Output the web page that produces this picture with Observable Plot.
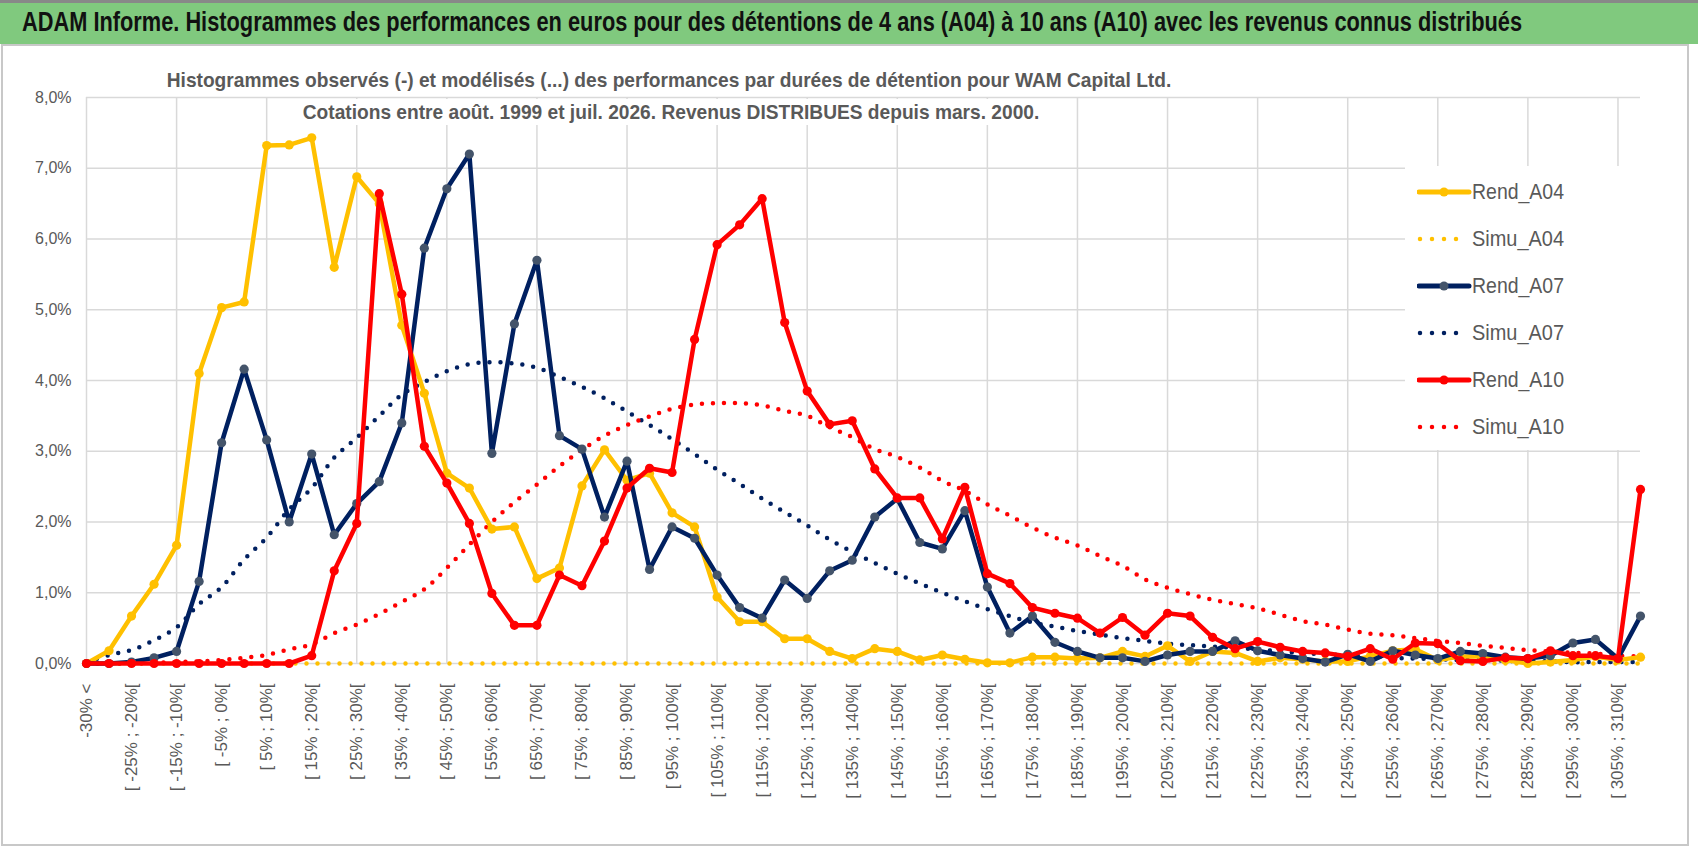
<!DOCTYPE html>
<html><head><meta charset="utf-8">
<script src="https://cdn.jsdelivr.net/npm/d3@7"></script>
<script src="https://cdn.jsdelivr.net/npm/@observablehq/plot@0.6"></script>
<style>
body{margin:0;background:#fff;font-family:"Liberation Sans","DejaVu Sans",sans-serif;}
#wrap{position:relative;width:1698px;height:854px;overflow:hidden;}
#frame{position:absolute;left:1px;top:44px;width:1688px;height:802px;border:2px solid #c8c8c8;box-sizing:border-box;}
#title{position:absolute;left:0;top:0;width:1698px;height:44px;background:#80C97E;border-top:3px solid #888;box-sizing:border-box;}
.fit{position:absolute;white-space:nowrap;transform-origin:0 50%;}
#legend{position:absolute;left:1405px;top:166px;width:235px;height:284px;background:#fff;}
.row{position:absolute;left:12px;height:30px;width:220px;}
#chart{position:absolute;left:0;top:0;}
</style></head><body>
<div id="wrap">
<div id="frame"></div>
<div id="chart"></div>
<div id="title"></div>
<div id="legend"></div>
</div>
<script>
// Categories (5% buckets)
const categories = ["-30% <"];
for (let lo = -30; lo <= 305; lo += 5) categories.push(`[ ${lo}% ; ${lo+5}%[`);
categories.push("> 310%");
const tickLabels = categories.filter((c,i)=>i%2===0);

const rendA04 = [0,0.18,0.67,1.12,1.67,4.1,5.03,5.11,7.32,7.33,7.43,5.6,6.88,6.5,4.78,3.82,2.69,2.48,1.9,1.93,1.2,1.35,2.51,3.02,2.59,2.69,2.13,1.93,0.94,0.59,0.59,0.35,0.35,0.17,0.07,0.21,0.17,0.05,0.12,0.06,0.01,0.01,0.09,0.09,0.07,0.08,0.17,0.1,0.25,0.03,0.17,0.15,0.03,0.08,0.06,0.03,0.03,0.1,0.18,0.2,0.05,0.1,0.1,0.05,0,0.02,0.05,0.1,0.05,0.09];
const simuA04 = Array(70).fill(0.0);
const rendA07 = [0,0,0.02,0.08,0.17,1.16,3.12,4.16,3.16,2.0,2.96,1.82,2.26,2.57,3.4,5.87,6.71,7.2,2.97,4.8,5.7,3.22,3.03,2.07,2.86,1.33,1.93,1.77,1.25,0.79,0.64,1.18,0.92,1.31,1.46,2.07,2.33,1.71,1.62,2.16,1.08,0.43,0.67,0.3,0.17,0.08,0.08,0.03,0.12,0.17,0.17,0.32,0.18,0.12,0.07,0.02,0.13,0.03,0.18,0.12,0.07,0.17,0.14,0.09,0.07,0.11,0.29,0.34,0.07,0.67];
const simuA07 = [0.02,0.12,0.19,0.33,0.51,0.84,1.08,1.47,1.78,2.18,2.48,2.91,3.19,3.5,3.8,3.98,4.13,4.23,4.26,4.24,4.18,4.05,3.91,3.75,3.56,3.37,3.17,2.96,2.74,2.54,2.33,2.14,1.95,1.75,1.58,1.42,1.27,1.13,1.0,0.88,0.77,0.67,0.58,0.52,0.46,0.41,0.36,0.32,0.28,0.26,0.24,0.22,0.2,0.17,0.15,0.13,0.12,0.1,0.08,0.07,0.06,0.05,0.05,0.04,0.03,0.03,0.02,0.02,0.02,0.02];
const rendA10 = [0,0,0,0,0,0,0,0,0,0,0.11,1.31,1.98,6.64,5.22,3.07,2.55,1.98,0.99,0.54,0.54,1.25,1.1,1.73,2.48,2.76,2.7,4.58,5.92,6.2,6.57,4.82,3.85,3.38,3.43,2.75,2.34,2.34,1.76,2.49,1.27,1.13,0.79,0.71,0.64,0.43,0.65,0.4,0.71,0.67,0.37,0.21,0.31,0.23,0.17,0.15,0.1,0.21,0.06,0.29,0.28,0.04,0.03,0.08,0.07,0.18,0.11,0.11,0.07,2.46];
const simuA10 = [0,0,0,0.01,0.02,0.03,0.05,0.08,0.12,0.2,0.27,0.43,0.55,0.7,0.87,1.05,1.35,1.68,2.0,2.28,2.53,2.79,3.02,3.22,3.37,3.49,3.6,3.66,3.68,3.68,3.65,3.57,3.5,3.34,3.2,3.03,2.92,2.77,2.58,2.44,2.25,2.09,1.92,1.78,1.67,1.52,1.38,1.19,1.07,0.98,0.9,0.84,0.78,0.69,0.6,0.55,0.48,0.42,0.4,0.36,0.32,0.29,0.25,0.22,0.19,0.17,0.15,0.14,0.11,0.1];
const yTicks = [0,1,2,3,4,5,6,7,8];

const YEL="#FFC000", NAVY="#002060", RED="#FF0000", MARK07="#44546A";
const series = [
 {name:"Rend_A04", vals:rendA04, color:YEL, dot:YEL, dotted:false},
 {name:"Simu_A04", vals:simuA04, color:YEL, dotted:true},
 {name:"Rend_A07", vals:rendA07, color:NAVY, dot:MARK07, dotted:false},
 {name:"Simu_A07", vals:simuA07, color:NAVY, dotted:true},
 {name:"Rend_A10", vals:rendA10, color:RED, dot:RED, dotted:false},
 {name:"Simu_A10", vals:simuA10, color:RED, dotted:true}
];
const tbl = s => s.vals.map((v,i)=>({x:categories[i], y:v}));
const marks = [
  Plot.gridY(yTicks,{stroke:"#d9d9d9",strokeOpacity:1,strokeWidth:1.5}),
  Plot.gridX(categories.filter((c,i)=>i%4===0),{stroke:"#d9d9d9",strokeOpacity:1,strokeWidth:1.5}),
  Plot.axisY(yTicks,{tickSize:0,tickPadding:15,fontSize:16,fill:"#595959",label:null,tickFormat:d=>d.toFixed(1).replace(".",",")+"%"}),
  Plot.axisX(tickLabels,{tickSize:0,tickPadding:20,tickRotate:-90,fontSize:17,fill:"#595959",label:null,tickFormat:d=>d})
];
for (const s of series.filter(s=>s.dotted)) {
  marks.push(Plot.line(tbl(s),{x:"x",y:"y",stroke:s.color,strokeWidth:4.5,strokeDasharray:"0,11",strokeLinecap:"round",curve:"catmull-rom"}));
}
for (const s of series.filter(s=>!s.dotted)) {
  marks.push(Plot.line(tbl(s),{x:"x",y:"y",stroke:s.color,strokeWidth:4.5,strokeLinejoin:"round"}));
  marks.push(Plot.dot(tbl(s),{x:"x",y:"y",r:4.6,fill:s.dot,stroke:"none"}));
}
const chart = Plot.plot({
  width:1698,height:854,marginLeft:86,marginRight:58,marginTop:97,marginBottom:191,
  style:{fontFamily:"'Liberation Sans','DejaVu Sans',sans-serif",background:"transparent"},
  x:{type:"point",domain:categories,padding:0,axis:null,label:null},
  y:{domain:[0,8],axis:null,label:null},
  marks
});
document.getElementById("chart").appendChild(chart);

// fitted texts
const wrap=document.getElementById("wrap");
function fitText(parent,txt,x,yc,w,size,weight,color,bg){
  const d=document.createElement("div");d.className="fit";d.textContent=txt;
  Object.assign(d.style,{left:x+"px",fontSize:size+"px",fontWeight:weight,color,lineHeight:"1.2",background:bg||"transparent",padding:bg?"0 3px":"0"});
  parent.appendChild(d);
  const r=d.getBoundingClientRect();
  d.style.top=(yc-r.height/2)+"px";
  d.style.transform=`scaleX(${w/r.width})`;
  return d;
}
fitText(wrap,"ADAM Informe. Histogrammes des performances en euros pour des détentions de 4 ans (A04) à 10 ans (A10) avec les revenus connus distribués",22,22,1500,27,"bold","#111");
fitText(wrap,"Histogrammes observés (-) et modélisés (...) des performances par durées de détention pour WAM Capital Ltd.",164,80,1010,21,"bold","#595959","#fff");
fitText(wrap,"Cotations entre août. 1999 et juil. 2026. Revenus DISTRIBUES depuis mars. 2000.",300,112,742,21,"bold","#595959","#fff");

const leg=document.getElementById("legend");
series.forEach((s,i)=>{
  const r=document.createElement("div");r.className="row";r.style.top=(11+i*47)+"px";
  const sym = s.dotted
   ? `<svg width="58" height="30" style="position:absolute;left:0;top:0"><line x1="3" x2="${s.name==="Simu_A10"?48:40}" y1="15" y2="15" stroke="${s.color}" stroke-width="4.5" stroke-dasharray="0,12" stroke-linecap="round"/></svg>`
   : `<svg width="58" height="30" style="position:absolute;left:0;top:0"><line x1="2" x2="52" y1="15" y2="15" stroke="${s.color}" stroke-width="5" stroke-linecap="round"/><circle cx="27" cy="15" r="4.5" fill="${s.dot}"/></svg>`;
  r.innerHTML = sym;
  leg.appendChild(r);
  fitText(r,s.name,55,15,92,22,"normal","#595959");
});
</script>
</body></html>
